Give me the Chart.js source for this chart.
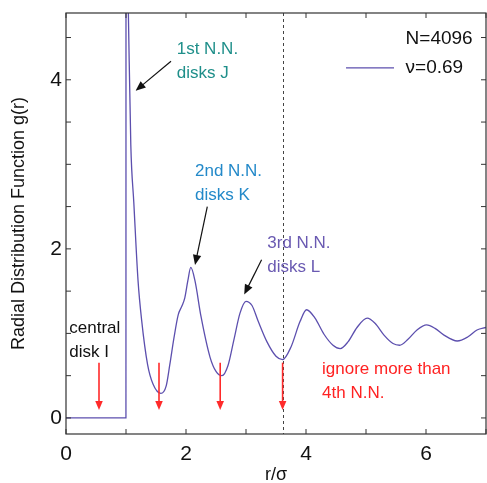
<!DOCTYPE html>
<html>
<head>
<meta charset="utf-8">
<script src="https://cdn.jsdelivr.net/npm/chart.js@4/dist/chart.umd.min.js"></script>
<style>
  html, body { margin: 0; padding: 0; background: #fff; }
  #wrap { width: 487px; height: 483px; }
</style>
</head>
<body>
<div id="wrap"><canvas id="chart" width="487" height="483"></canvas></div>
<script>
"use strict";

// ── Data ────────────────────────────────────────────────────────────────────
const R_VALUES = [
  0, 0.5, 0.999, 1.0, 1.04, 1.08, 1.13, 1.2, 1.26, 1.36, 1.45, 1.58,
  1.67, 1.73, 1.8, 1.87, 1.93, 1.98, 2.03, 2.08, 2.15, 2.25, 2.4, 2.5,
  2.6, 2.7, 2.8, 2.9, 3.0, 3.1, 3.2, 3.35, 3.5, 3.61, 3.75, 3.9, 4.01,
  4.15, 4.3, 4.45, 4.57, 4.7, 4.85, 5.02, 5.15, 5.3, 5.45, 5.56, 5.7,
  5.85, 6.01, 6.15, 6.3, 6.52, 6.7, 6.85, 7.0
];
const G_VALUES = [
  0, 0, 0, 6.3, 4.77, 3.23, 2.55, 1.63, 1.16, 0.63, 0.4, 0.29,
  0.38, 0.63, 0.95, 1.22, 1.32, 1.42, 1.62, 1.78, 1.62, 1.2, 0.72, 0.55,
  0.5, 0.62, 0.93, 1.24, 1.38, 1.33, 1.15, 0.9, 0.73, 0.69, 0.84, 1.14, 1.28,
  1.18, 0.99, 0.86, 0.82, 0.9, 1.07, 1.18, 1.12, 0.98, 0.88, 0.86, 0.93,
  1.04, 1.1, 1.06, 0.98, 0.91, 0.96, 1.04, 1.07
];
const X_LABELS = [0, 2, 4, 6];
const Y_LABELS = [0, 2, 4];
const SERIES_NAME = "\u03BD=0.69";
const SYSTEM_SIZE = "N=4096";

// ── Annotations (data coordinates) ──────────────────────────────────────────
const NOTES = [
  { lines: ["1st N.N.", "disks J"], r: 1.845, g: 4.36, color: "#1f8f8a" },
  { lines: ["2nd N.N.", "disks K"], r: 2.15, g: 2.915, color: "#2389c9" },
  { lines: ["3rd N.N.", "disks L"], r: 3.355, g: 2.07, color: "#6a5ab2" },
  { lines: ["central", "disk I"], r: 0.055, g: 1.06, color: "#111" },
  { lines: ["ignore more than", "4th N.N."], r: 4.267, g: 0.576, color: "#f22" },
];
const BLACK_ARROWS = [
  [1.75, 4.22, 1.16, 3.87],
  [2.355, 2.50, 2.15, 1.81],
  [3.26, 1.87, 2.97, 1.46],
];
const RED_ARROW_R = [0.55, 1.55, 2.57, 3.61];
const RED_ARROW_G = [0.654, 0.095];
const CUTOFF_R = 3.61;

const FONT = "'Liberation Sans', Arial, Helvetica, sans-serif";
const CURVE = "#5c4fae";

function arrow(ctx, x1, y1, x2, y2, color, head, lw) {
  const a = Math.atan2(y2 - y1, x2 - x1);
  const c = Math.cos(a), s = Math.sin(a), w = head * 0.42;
  ctx.strokeStyle = color;
  ctx.fillStyle = color;
  ctx.lineWidth = lw;
  ctx.beginPath();
  ctx.moveTo(x1, y1);
  ctx.lineTo(x2 - c * head * 0.8, y2 - s * head * 0.8);
  ctx.stroke();
  ctx.beginPath();
  ctx.moveTo(x2, y2);
  ctx.lineTo(x2 - head * c + w * s, y2 - head * s - w * c);
  ctx.lineTo(x2 - head * c - w * s, y2 - head * s + w * c);
  ctx.closePath();
  ctx.fill();
}

const overlay = {
  id: "overlay",
  beforeDatasetsDraw(chart) {
    const { ctx, chartArea: a, scales: { x } } = chart;
    const px = Math.round(x.getPixelForValue(CUTOFF_R)) + 0.5;
    ctx.save();
    ctx.strokeStyle = "#444";
    ctx.lineWidth = 1;
    ctx.setLineDash([3, 3]);
    ctx.beginPath();
    ctx.moveTo(px, a.top);
    ctx.lineTo(px, a.bottom);
    ctx.stroke();
    ctx.restore();
  },
  afterDatasetsDraw(chart) {
    const { ctx, chartArea: a, scales: { x, y } } = chart;
    ctx.save();

    // frame + inward ticks
    ctx.strokeStyle = "#333";
    ctx.lineWidth = 1.2;
    ctx.strokeRect(a.left, a.top, a.right - a.left, a.bottom - a.top);
    ctx.lineWidth = 1;
    const tl = 5;
    x.ticks.forEach(t => {
      if (Math.abs(t.value - Math.round(t.value)) > 1e-6) return;
      const p = x.getPixelForValue(t.value);
      ctx.beginPath();
      ctx.moveTo(p, a.bottom); ctx.lineTo(p, a.bottom - tl);
      ctx.moveTo(p, a.top); ctx.lineTo(p, a.top + tl);
      ctx.stroke();
    });
    y.ticks.forEach(t => {
      if (Math.abs(t.value * 2 - Math.round(t.value * 2)) > 1e-6) return;
      const p = y.getPixelForValue(t.value);
      ctx.beginPath();
      ctx.moveTo(a.left, p); ctx.lineTo(a.left + tl, p);
      ctx.moveTo(a.right, p); ctx.lineTo(a.right - tl, p);
      ctx.stroke();
    });

    // red arrows
    RED_ARROW_R.forEach(r => {
      const px = x.getPixelForValue(r);
      arrow(ctx, px, y.getPixelForValue(RED_ARROW_G[0]), px,
        y.getPixelForValue(RED_ARROW_G[1]), "#ff2a2a", 9, 1.6);
    });

    // black arrows
    BLACK_ARROWS.forEach(([r1, g1, r2, g2]) => {
      arrow(ctx, x.getPixelForValue(r1), y.getPixelForValue(g1),
        x.getPixelForValue(r2), y.getPixelForValue(g2), "#111", 10, 1.2);
    });

    // text notes
    ctx.font = "17px " + FONT;
    ctx.textBaseline = "middle";
    ctx.textAlign = "left";
    NOTES.forEach(n => {
      ctx.fillStyle = n.color;
      const px = x.getPixelForValue(n.r);
      const py = y.getPixelForValue(n.g);
      n.lines.forEach((s, i) => ctx.fillText(s, px, py + i * 24));
    });

    // legend
    ctx.font = "19px " + FONT;
    ctx.fillStyle = "#111";
    ctx.fillText(SYSTEM_SIZE, x.getPixelForValue(5.66), y.getPixelForValue(4.49));
    const ly = y.getPixelForValue(4.14);
    ctx.strokeStyle = CURVE;
    ctx.lineWidth = 1.3;
    ctx.beginPath();
    ctx.moveTo(x.getPixelForValue(4.667), ly);
    ctx.lineTo(x.getPixelForValue(5.467), ly);
    ctx.stroke();
    ctx.fillText(SERIES_NAME, x.getPixelForValue(5.66), ly);

    ctx.restore();
  }
};

new Chart(document.getElementById("chart"), {
  type: "line",
  data: {
    datasets: [{
      label: SERIES_NAME,
      data: R_VALUES.map((r, i) => ({ x: r, y: G_VALUES[i] })),
      borderColor: CURVE,
      borderWidth: 1.3,
      pointRadius: 0,
      fill: false,
      cubicInterpolationMode: "monotone",
    }],
  },
  options: {
    responsive: false,
    animation: false,
    devicePixelRatio: 1,
    layout: { padding: { top: 13, right: 1, left: 0, bottom: 0 } },
    plugins: { legend: { display: false }, tooltip: { enabled: false } },
    scales: {
      x: {
        type: "linear",
        min: 0,
        max: 7,
        grid: { display: false, drawTicks: false },
        border: { display: false },
        ticks: {
          stepSize: 1,
          includeBounds: false,
          autoSkip: false,
          maxRotation: 0,
          padding: 8,
          color: "#111",
          font: { family: FONT, size: 21 },
          callback: v => (X_LABELS.includes(v) ? String(v) : ""),
        },
        title: {
          display: true,
          text: "r/\u03C3",
          color: "#111",
          font: { family: FONT, size: 18, lineHeight: 0.9 },
          padding: { top: 0, bottom: 0 },
        },
        afterFit: s => {
          s.height = 49;
          s.paddingLeft = 0;
          s.paddingRight = 0;
        },
      },
      y: {
        type: "linear",
        min: -0.19,
        max: 4.79,
        grid: { display: false, drawTicks: false },
        border: { display: false },
        ticks: {
          stepSize: 0.5,
          includeBounds: false,
          autoSkip: false,
          padding: 4,
          color: "#111",
          font: { family: FONT, size: 21 },
          callback: v => (Y_LABELS.includes(v) ? String(v) : ""),
        },
        title: {
          display: true,
          text: "Radial Distribution Function g(r)",
          color: "#111",
          font: { family: FONT, size: 18, lineHeight: 1.2 },
          padding: { top: 8, bottom: 0 },
        },
        afterFit: s => {
          s.width = 66;
          s.paddingTop = 0;
          s.paddingBottom = 0;
        },
      },
    },
  },
  plugins: [overlay],
});
</script>
</body>
</html>
